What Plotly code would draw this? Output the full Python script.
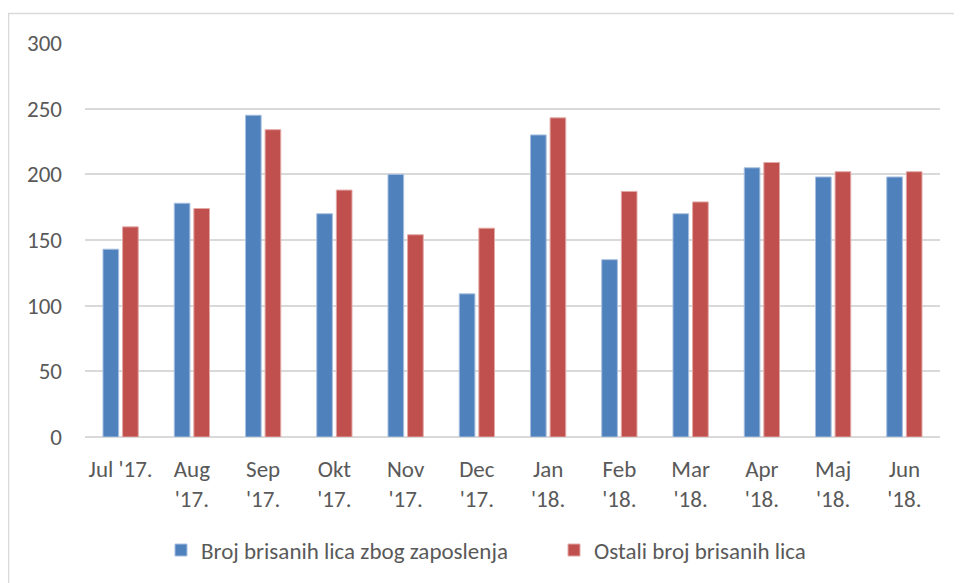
import plotly.graph_objects as go

months = ["Jul '17.", "Aug '17.", "Sep '17.", "Okt '17.", "Nov '17.", "Dec '17.",
          "Jan '18.", "Feb '18.", "Mar '18.", "Apr '18.", "Maj '18.", "Jun '18."]
tick_labels = ["Jul '17.", "Aug<br>'17.", "Sep<br>'17.", "Okt<br>'17.", "Nov<br>'17.", "Dec<br>'17.",
               "Jan<br>'18.", "Feb<br>'18.", "Mar<br>'18.", "Apr<br>'18.", "Maj<br>'18.", "Jun<br>'18."]
zaposlenje = [143, 178, 245, 170, 200, 109, 230, 135, 170, 205, 198, 198]
ostali = [160, 174, 234, 188, 154, 159, 243, 187, 179, 209, 202, 202]
series_names = ["Broj brisanih lica zbog zaposlenja", "Ostali broj brisanih lica"]
y_ticks = [0, 50, 100, 150, 200, 250, 300]

FONT = "Carlito, Lato, sans-serif"
TXT = "#595959"

# page body adds an 8px offset; margins compensate for it
ML, MR, MT, MB = 77, 30, 35, 154
PW = 962 - ML - MR
PH = 583 - MT - MB

fig = go.Figure()
fig.add_trace(go.Bar(x=months, y=zaposlenje, name=series_names[0],
                     marker=dict(color="#4F81BD", line=dict(color="#A9C0E0", width=1))))
fig.add_trace(go.Bar(x=months, y=ostali, name=series_names[1],
                     marker=dict(color="#C0504D", line=dict(color="#E3A9A7", width=1))))

fig.update_layout(
    width=962, height=583,
    margin=dict(l=ML, r=MR, t=MT, b=MB, pad=0),
    paper_bgcolor="white", plot_bgcolor="white",
    barmode="group", bargap=0.45, bargroupgap=0.2,
    font=dict(family=FONT, size=23, color=TXT),
    showlegend=True,
    legend=dict(orientation="h", x=(153 - ML) / PW, xanchor="left", y=-0.287, yanchor="middle",
                font=dict(family=FONT, size=23, color=TXT), itemwidth=30,
                entrywidthmode="pixels", entrywidth=348,
                bgcolor="rgba(0,0,0,0)"),
    xaxis=dict(tickmode="array", tickvals=months, ticktext=tick_labels,
               showgrid=False, showline=False, zeroline=False,
               ticks="", ticklabelstandoff=16,
               tickfont=dict(family=FONT, size=23, color=TXT)),
    yaxis=dict(range=[0, 300], tickvals=y_ticks, showgrid=True,
               gridcolor="#D9D9D9", gridwidth=1.5,
               zeroline=True, zerolinecolor="#D9D9D9", zerolinewidth=1.5,
               showline=False, ticks="", ticklabelstandoff=22,
               tickfont=dict(family=FONT, size=23, color=TXT)),
    shapes=[dict(type="rect", xref="paper", yref="paper",
                 x0=(0.5 - ML) / PW, x1=1.1, y0=-0.45, y1=(MT + PH - 5.5) / PH,
                 line=dict(color="#D9D9D9", width=1.5), fillcolor="rgba(0,0,0,0)", layer="below")],
)

fig.write_html("out.html")
